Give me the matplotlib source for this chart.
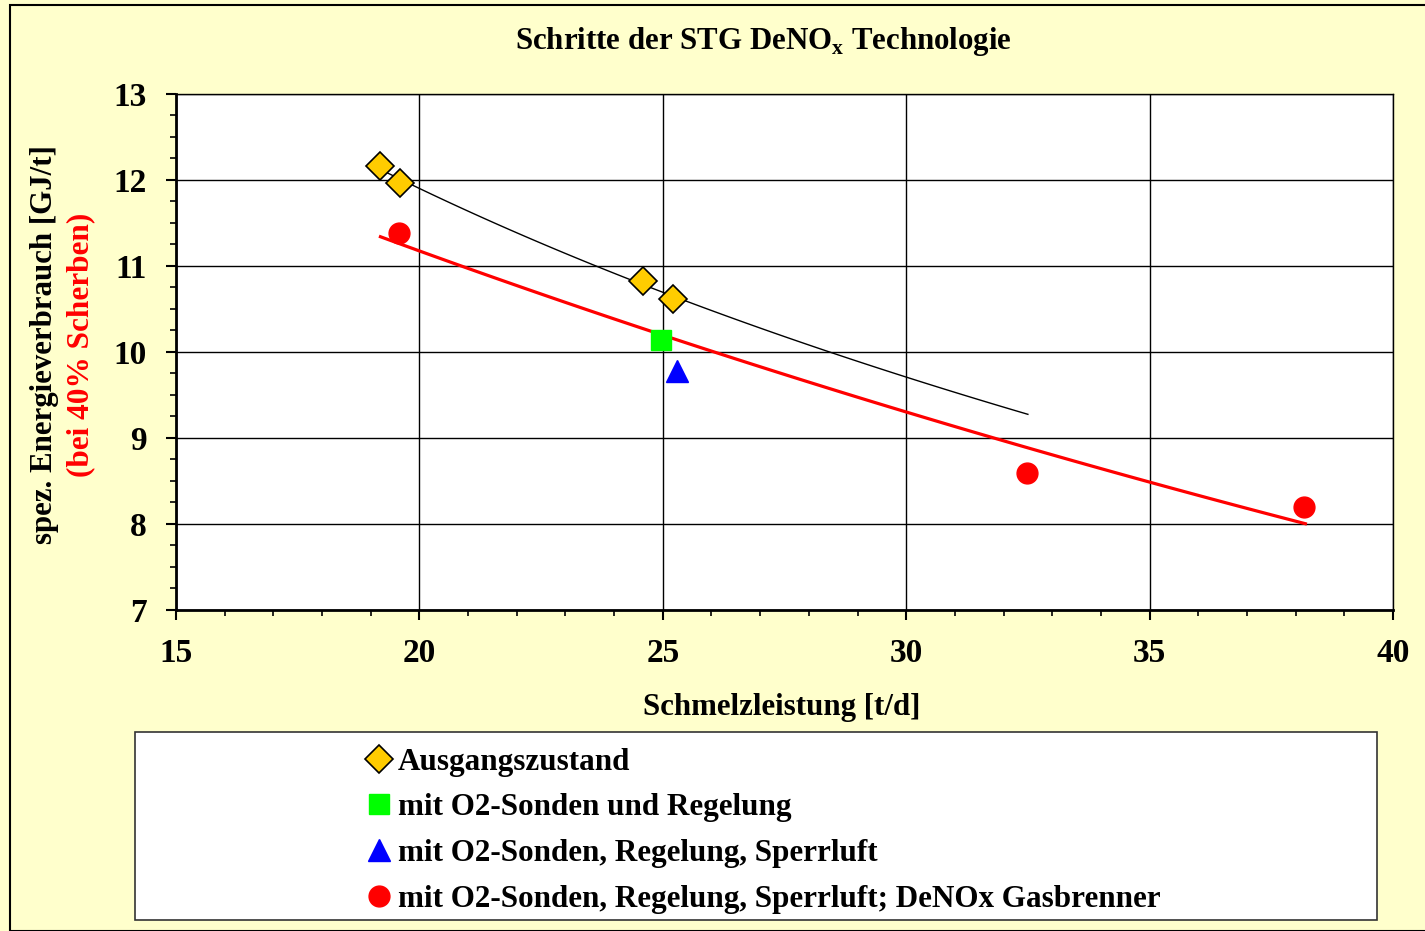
#! /usr/bin/env python3

'''
Schritte der STG DeNOx Technologie: spez. Energieverbrauch vs. Schmelzleistung.
'''

import numpy as np
import matplotlib
matplotlib.use('Agg')
import matplotlib.pyplot as plt
from matplotlib.lines import Line2D
from matplotlib.patches import Rectangle

# data
ausgang_x = [19.19, 19.6, 24.6, 25.2]
ausgang_y = [12.16, 11.97, 10.82, 10.62]
o2_x = [24.97]
o2_y = [10.14]
sperr_x = [25.3]
sperr_y = [9.78]
gas_x = [19.58, 32.48, 38.17]
gas_y = [11.38, 8.59, 8.20]

labels = ['Ausgangszustand',
          'mit O2-Sonden und Regelung',
          'mit O2-Sonden, Regelung, Sperrluft',
          'mit O2-Sonden, Regelung, Sperrluft; DeNOx Gasbrenner']

plt.rcParams['font.family'] = 'Liberation Serif'
plt.rcParams['font.weight'] = 'bold'
plt.rcParams['mathtext.fontset'] = 'custom'
plt.rcParams['mathtext.bf'] = 'Liberation Serif:bold'
plt.rcParams['mathtext.rm'] = 'Liberation Serif:bold'

W, H = 1425, 931
bg = '#FFFFCC'
fig = plt.figure(figsize=(W / 100, H / 100), dpi=100, facecolor=bg)

# outer chart border
fig.patches.append(Rectangle((10 / W, 0), 1.2, 1 - 5 / H, transform=fig.transFigure,
                             facecolor='none', edgecolor='black', lw=1.5))

ax = fig.add_axes([176 / W, 1 - 610 / H, 1217 / W, 516 / H])
ax.set_facecolor('white')


def log_trend(x, y, x0, x1):
    # Excel-style logarithmic trendline
    b, a = np.polyfit(np.log(x), y, 1)
    xs = np.linspace(x0, x1, 100)
    return xs, a + b * np.log(xs)


def exp_trend(x, y, x0, x1):
    # Excel-style exponential trendline
    k, a = np.polyfit(x, np.log(y), 1)
    xs = np.linspace(x0, x1, 100)
    return xs, np.exp(a + k * xs)


tx, ty = log_trend(ausgang_x, ausgang_y, 19.2, 32.5)
ax.plot(tx, ty, color='black', lw=1.0, zorder=3)
tx, ty = exp_trend(gas_x, gas_y, 19.2, 38.2)
ax.plot(tx, ty, color='red', lw=2.3, zorder=3)

ax.plot(ausgang_x, ausgang_y, 'D', ms=14.5, mfc='#FFCC00', mec='black', mew=1.2, ls='none', zorder=4)
ax.plot(o2_x, o2_y, 's', ms=15, mfc='#00FF00', mec='#00FF00', ls='none', zorder=4)
ax.plot(sperr_x, sperr_y, '^', ms=16, mfc='#0000FF', mec='#0000FF', ls='none', zorder=4)
ax.plot(gas_x, gas_y, 'o', ms=15, mfc='#FF0000', mec='#FF0000', ls='none', zorder=4)

ax.set_xlim(15, 40)
ax.set_ylim(7, 13)
ax.set_xticks(range(15, 41, 5))
ax.set_yticks(range(7, 14))
ax.set_xticks(np.arange(15, 41, 1), minor=True)
ax.set_yticks(np.arange(7, 13.01, 0.25), minor=True)
ax.grid(True, which='major', color='black', lw=1.0)
ax.set_axisbelow(True)
ax.tick_params(which='major', direction='out', length=7, width=1.5,
               labelsize=24, pad=13)
ax.tick_params(which='minor', direction='out', length=4, width=1.2)
ax.tick_params(axis='y', pad=14)
for s in ax.spines.values():
    s.set_linewidth(1.0)
ax.spines['left'].set_linewidth(2)
ax.spines['bottom'].set_linewidth(2)

fig.text(763 / W, 1 - 41 / H, r'Schritte der STG DeNO$_\mathbf{x}$ Technologie',
         ha='center', va='center', fontsize=22.2, fontweight='bold')
fig.text(782 / W, 1 - 708 / H, 'Schmelzleistung [t/d]',
         ha='center', va='center', fontsize=22.2, fontweight='bold')
fig.text(45 / W, 1 - 345 / H, 'spez. Energieverbrauch [GJ/t]', rotation=90,
         ha='center', va='center', fontsize=22.2, fontweight='bold')
fig.text(81 / W, 1 - 345 / H, '(bei 40% Scherben)', rotation=90, color='red',
         ha='center', va='center', fontsize=22.5, fontweight='bold')

# legend box
fig.patches.append(Rectangle((135 / W, 1 - 920 / H), 1242 / W, 188 / H,
                             transform=fig.transFigure, facecolor='white',
                             edgecolor='#333333', lw=1.2))
handles = [
    Line2D([], [], marker='D', ms=14, mfc='#FFCC00', mec='black', mew=1.2, ls='none'),
    Line2D([], [], marker='s', ms=15, mfc='#00FF00', mec='#00FF00', ls='none'),
    Line2D([], [], marker='^', ms=16, mfc='#0000FF', mec='#0000FF', ls='none'),
    Line2D([], [], marker='o', ms=15, mfc='#FF0000', mec='#FF0000', ls='none'),
]
fig.legend(handles, labels, loc='upper left', bbox_to_anchor=(351 / W, 1 - 732 / H),
           frameon=False, handlelength=0.8, handletextpad=0.2,
           labelspacing=0.54, borderpad=0, prop={'weight': 'bold', 'size': 22.4})

fig.savefig('out.png', dpi=100, facecolor=bg)
